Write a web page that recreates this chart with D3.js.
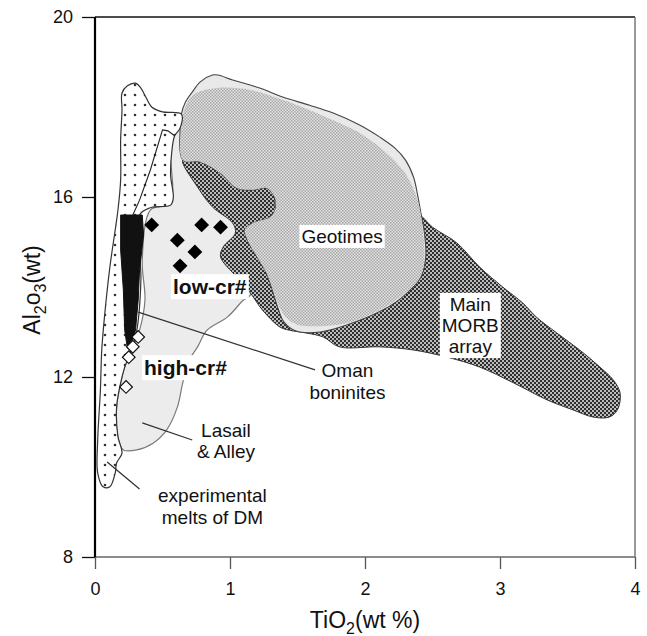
<!DOCTYPE html>
<html><head><meta charset="utf-8">
<script src="https://cdn.jsdelivr.net/npm/d3@7"></script>
<style>body{margin:0;background:#fff;} text{font-family:"Liberation Sans",Arial,Helvetica,sans-serif;}</style>
</head><body><svg id="c" width="647" height="636"></svg>
<script>
// ---- data (TiO2 wt%, Al2O3 wt%) ----
const xTicks=[0,1,2,3,4];
const yTicks=[8,12,16,20];
const lasailAlley=[[0.59,17.42],[0.67,17.71],[0.78,17.04],[1.00,15.93],[1.19,14.60],[1.15,13.82],[1.10,13.71],[0.98,13.33],[0.83,13.04],[0.76,12.67],[0.70,12.38],[0.65,11.87],[0.61,11.33],[0.53,10.82],[0.43,10.53],[0.31,10.38],[0.21,10.38],[0.17,10.67],[0.16,11.33],[0.19,11.87],[0.22,12.22],[0.27,12.60],[0.33,13.04],[0.37,13.71],[0.35,14.60],[0.41,15.71],[0.52,15.82],[0.57,15.98],[0.56,17.04]];
const morbArray=[[0.65,16.82],[0.78,16.78],[0.93,16.53],[1.05,16.20],[1.17,16.16],[1.27,16.20],[1.33,16.00],[1.34,15.78],[1.52,15.93],[2.11,15.93],[2.39,15.64],[2.50,15.33],[2.68,14.98],[2.85,14.44],[3.02,14.00],[3.17,13.64],[3.27,13.33],[3.42,12.98],[3.59,12.60],[3.74,12.22],[3.84,11.93],[3.89,11.64],[3.87,11.27],[3.81,11.11],[3.69,11.11],[3.54,11.27],[3.35,11.49],[3.10,11.87],[2.85,12.22],[2.61,12.44],[2.36,12.60],[2.11,12.67],[1.81,12.67],[1.69,12.89],[1.56,12.98],[1.44,13.04],[1.37,13.11],[1.24,13.49],[1.15,13.87],[1.05,14.22],[0.93,14.67],[0.95,14.89],[1.04,15.20],[1.02,15.42],[0.87,15.78],[0.76,16.22]];
const geotimesEnvelope=[[0.64,17.84],[0.67,18.11],[0.72,18.33],[0.78,18.56],[0.87,18.71],[0.91,18.71],[1.02,18.60],[1.22,18.42],[1.39,18.22],[1.59,18.04],[1.76,17.87],[1.96,17.60],[2.11,17.33],[2.22,17.09],[2.30,16.82],[2.36,16.44],[2.39,16.04],[2.41,15.71],[2.44,15.20],[2.45,14.67],[2.41,14.20],[2.27,13.76],[2.12,13.47],[1.87,13.16],[1.67,13.00],[1.49,13.02],[1.40,13.22],[1.36,13.49],[1.27,14.31],[1.20,14.67],[1.13,15.04],[1.11,15.27],[1.17,15.42],[1.30,15.56],[1.34,15.78],[1.33,16.00],[1.27,16.20],[1.17,16.16],[1.05,16.20],[0.93,16.53],[0.78,16.78],[0.65,16.82],[0.63,17.49]];
const geotimesField=[[0.65,16.82],[0.64,17.56],[0.66,17.93],[0.73,18.27],[0.90,18.42],[1.15,18.38],[1.39,18.16],[1.76,17.71],[2.01,17.33],[2.28,16.60],[2.39,15.93],[2.43,15.20],[2.44,14.67],[2.41,14.22],[2.26,13.78],[2.11,13.49],[1.87,13.20],[1.67,13.13],[1.50,13.16],[1.42,13.31],[1.37,13.53],[1.27,14.31],[1.20,14.67],[1.13,15.04],[1.11,15.27],[1.17,15.42],[1.30,15.56],[1.34,15.78],[1.33,16.00],[1.27,16.20],[1.17,16.16],[1.05,16.20],[0.93,16.53],[0.78,16.78]];
const dmMelts=[[0.20,18.31],[0.24,18.47],[0.30,18.53],[0.34,18.42],[0.38,18.20],[0.42,18.00],[0.50,17.89],[0.64,17.84],[0.63,17.53],[0.59,17.36],[0.57,17.04],[0.56,16.49],[0.58,15.98],[0.56,15.82],[0.41,15.76],[0.33,15.60],[0.34,14.16],[0.31,13.04],[0.27,12.60],[0.22,12.22],[0.19,11.87],[0.16,11.33],[0.17,10.67],[0.20,10.31],[0.16,10.09],[0.15,9.87],[0.11,9.56],[0.06,9.56],[0.02,9.87],[0.02,10.60],[0.04,11.71],[0.05,12.60],[0.07,13.33],[0.11,14.44],[0.17,15.71],[0.19,16.38],[0.19,17.27],[0.20,17.93]];
const omanBoninites=[[0.19,15.60],[0.35,15.60],[0.36,15.16],[0.33,14.38],[0.32,13.71],[0.30,13.04],[0.27,12.71],[0.24,12.64],[0.22,13.04],[0.21,13.93],[0.19,14.82]];
const omanOutline=[[0.59,17.36],[0.54,17.47],[0.50,17.49],[0.41,16.60],[0.33,15.93],[0.28,15.60]];
const lowCr=[[0.42,15.38],[0.79,15.38],[0.93,15.33],[0.61,15.04],[0.74,14.78],[0.63,14.47]];
const highCr=[[0.32,12.89],[0.28,12.67],[0.25,12.44],[0.23,11.78]];
const pointers=[[[0.32,13.44],[1.63,12.16]],[[0.35,10.98],[0.72,10.60]],[[0.09,10.11],[0.33,9.51]]];
const annotations=[
 {lines:["Geotimes"],x:1.83,y:[14.98],bold:false,box:true},
 {lines:["Main","MORB","array"],x:2.78,y:[13.47,13.00,12.53],bold:false,box:true},
 {lines:["low-cr#"],x:0.85,y:[13.84],bold:true,box:true},
 {lines:["high-cr#"],x:0.67,y:[12.04],bold:true,box:true},
 {lines:["Oman","boninites"],x:1.87,y:[12.00,11.52],bold:false,box:false},
 {lines:["Lasail","& Alley"],x:0.97,y:[10.67,10.20],bold:false,box:false},
 {lines:["experimental","melts of DM"],x:0.87,y:[9.22,8.74],bold:false,box:false}
];

// ---- drawing ----
const svg=d3.select("#c");
const x=d3.scaleLinear().domain([0,4]).range([95,635]);
const y=d3.scaleLinear().domain([8,20]).range([557,17]);
const defs=svg.append("defs");
function checker(id,bg,fg,s){
  const p=defs.append("pattern").attr("id",id).attr("patternUnits","userSpaceOnUse").attr("width",2*s).attr("height",2*s);
  p.append("rect").attr("width",2*s).attr("height",2*s).attr("fill",bg);
  p.append("rect").attr("width",s).attr("height",s).attr("fill",fg);
  p.append("rect").attr("x",s).attr("y",s).attr("width",s).attr("height",s).attr("fill",fg);
}
checker("geoPat","#e2e2e2","#a8a8a8",1.5);
checker("morbPat","#bdbdbd","#2e2e2e",2);
const dp=defs.append("pattern").attr("id","dotPat").attr("patternUnits","userSpaceOnUse").attr("width",10).attr("height",10);
dp.append("rect").attr("width",10).attr("height",10).attr("fill","#fff");
dp.append("circle").attr("cx",5).attr("cy",5).attr("r",1.3).attr("fill","#333");

const smooth=d3.line().x(d=>x(d[0])).y(d=>y(d[1])).curve(d3.curveCatmullRomClosed.alpha(0.5));
const straight=d3.line().x(d=>x(d[0])).y(d=>y(d[1]));

svg.append("path").datum(lasailAlley).attr("d",smooth).attr("fill","#ececec").attr("stroke","#7a7a7a").attr("stroke-width",1.2);
svg.append("path").datum(morbArray).attr("d",smooth).attr("fill","url(#morbPat)").attr("stroke","#333").attr("stroke-width",1);
svg.append("path").datum(geotimesEnvelope).attr("d",smooth).attr("fill","#e9e9e9").attr("stroke","#444").attr("stroke-width",1.1);
svg.append("path").datum(geotimesField).attr("d",smooth).attr("fill","url(#geoPat)").attr("stroke","none");
svg.append("path").datum(dmMelts).attr("d",smooth).attr("fill","url(#dotPat)").attr("stroke","#333").attr("stroke-width",1.2);
svg.append("path").datum(omanBoninites).attr("d",d=>straight(d)+"Z").attr("fill","#111").attr("stroke","#111").attr("stroke-width",1);
svg.append("path").datum(omanOutline).attr("d",straight).attr("fill","none").attr("stroke","#222").attr("stroke-width",1.1);

svg.selectAll(".lc").data(lowCr).join("path").attr("class","lc").attr("d",d3.symbol().type(d3.symbolSquare).size(110)())
  .attr("transform",d=>`translate(${x(d[0])},${y(d[1])}) rotate(45)`).attr("fill","#000");
svg.selectAll(".hc").data(highCr).join("path").attr("class","hc").attr("d",d3.symbol().type(d3.symbolSquare).size(80)())
  .attr("transform",d=>`translate(${x(d[0])},${y(d[1])}) rotate(45)`).attr("fill","#fff").attr("stroke","#111").attr("stroke-width",1.2);

pointers.forEach(p=>svg.append("path").attr("d",straight(p)).attr("stroke","#333").attr("stroke-width",1.3).attr("fill","none"));

annotations.forEach(a=>{
  const g=svg.append("g");
  const t=g.append("text").attr("text-anchor","middle").attr("font-size",a.bold?21:19)
    .attr("font-weight",a.bold?"bold":"normal").attr("fill","#111");
  a.lines.forEach((s,i)=>t.append("tspan").attr("x",x(a.x)).attr("y",y(a.y[i])).text(s));
  if(a.box){
    const b=t.node().getBBox();
    g.insert("rect","text").attr("x",b.x-2).attr("y",b.y-1).attr("width",b.width+4).attr("height",b.height+2).attr("fill","#fff");
  }
});

// axes
const ax=svg.append("g").attr("transform","translate(95,0)")
  .call(d3.axisLeft(y).tickValues(yTicks).tickSizeInner(13).tickSizeOuter(0).tickPadding(9).tickFormat(d3.format("d")));
ax.select(".domain").remove();
ax.selectAll("text").attr("font-size",18).attr("fill","#111").style("font-family","'Liberation Sans',Arial,sans-serif");
ax.selectAll("line").attr("stroke","#111").attr("stroke-width",1.3);
const bx=svg.append("g").attr("transform","translate(0,557)")
  .call(d3.axisBottom(x).tickValues(xTicks).tickSizeInner(12).tickSizeOuter(0).tickPadding(13).tickFormat(d3.format("d")));
bx.select(".domain").remove();
bx.selectAll("text").attr("font-size",18).attr("fill","#111").style("font-family","'Liberation Sans',Arial,sans-serif");
bx.selectAll("line").attr("stroke","#555").attr("stroke-width",1.3);

// frame
svg.append("line").attr("x1",x(0)).attr("x2",x(4)).attr("y1",y(20)).attr("y2",y(20)).attr("stroke","#111").attr("stroke-width",1.3);
svg.append("line").attr("x1",x(4)).attr("x2",x(4)).attr("y1",y(20)).attr("y2",y(8)).attr("stroke","#777").attr("stroke-width",1.5);
svg.append("line").attr("x1",x(0)).attr("x2",x(4)).attr("y1",y(8)).attr("y2",y(8)).attr("stroke","#666").attr("stroke-width",1.5);
svg.append("line").attr("x1",x(0)).attr("x2",x(0)).attr("y1",y(20)).attr("y2",y(8)).attr("stroke","#000").attr("stroke-width",2.2);

// axis titles
const xt=svg.append("text").attr("x",365).attr("y",628).attr("text-anchor","middle").attr("font-size",23).attr("fill","#111");
xt.append("tspan").text("TiO");
xt.append("tspan").attr("dy",6).attr("font-size",16).text("2");
xt.append("tspan").attr("dy",-6).text("(wt %)");
const yt=svg.append("text").attr("transform","translate(40,290) rotate(-90)").attr("text-anchor","middle").attr("font-size",23).attr("fill","#111");
yt.append("tspan").text("Al");
yt.append("tspan").attr("dy",6).attr("font-size",16).text("2");
yt.append("tspan").attr("dy",-6).text("o");
yt.append("tspan").attr("dy",6).attr("font-size",16).text("3");
yt.append("tspan").attr("dy",-6).text("(wt)");
</script></body></html>
